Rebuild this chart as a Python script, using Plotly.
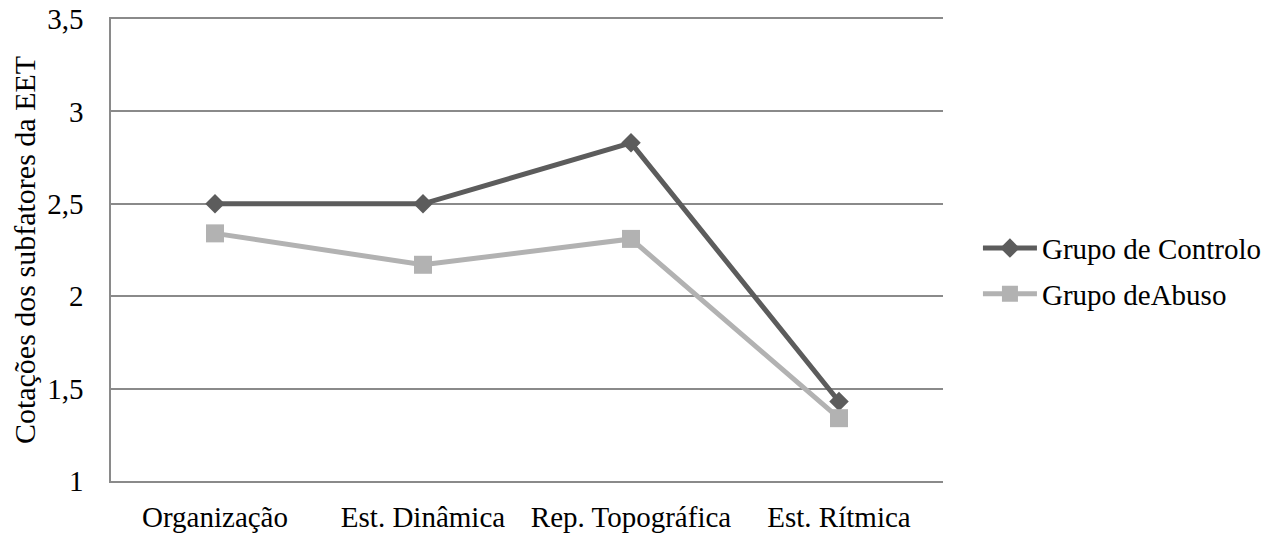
import plotly.graph_objects as go

categories = ["Organização", "Est. Dinâmica", "Rep. Topográfica", "Est. Rítmica"]
controlo = [2.5, 2.5, 2.83, 1.43]
abuso = [2.34, 2.17, 2.31, 1.34]
y_ticks = [1, 1.5, 2, 2.5, 3, 3.5]
y_tick_labels = ["1", "1,5", "2", "2,5", "3", "3,5"]

FONT = "Liberation Serif"
DARK = "#5c5c5c"
LIGHT = "#b2b2b2"
GRID = "#8a8a8a"

# the page body has an 8px default margin; size the figure to fit the window
fig = go.Figure()
fig.add_trace(go.Scatter(
    x=list(range(len(categories))), y=controlo, name="Grupo de Controlo",
    mode="lines+markers", legendgroup="a",
    line=dict(color=DARK, width=5),
    marker=dict(symbol="diamond", size=15, color=DARK),
))
fig.add_trace(go.Scatter(
    x=list(range(len(categories))), y=abuso, name="Grupo deAbuso",
    mode="lines+markers", legendgroup="b",
    line=dict(color=LIGHT, width=5),
    marker=dict(symbol="square", size=18, color=LIGHT),
))

fig.update_layout(
    width=1270, height=526,
    margin=dict(l=103, r=335, t=11, b=52.5, autoexpand=False),
    paper_bgcolor="white", plot_bgcolor="white",
    font=dict(family=FONT, size=29, color="black"),
    showlegend=True,
    legend=dict(x=1.042, xanchor="left", y=0.454, yanchor="middle",
                font=dict(family=FONT, size=29, color="black"),
                itemwidth=54,
                tracegroupgap=5, bgcolor="rgba(0,0,0,0)"),
    xaxis=dict(
        range=[-0.5, 3.5], tickmode="array", tickvals=list(range(len(categories))),
        ticktext=categories, showgrid=False, zeroline=False,
        showline=True, mirror=True, linecolor=GRID, linewidth=1.5, ticks="",
        tickfont=dict(family=FONT, size=29), automargin=False,
        ticklabelstandoff=9, ticklabeloverflow="allow",
    ),
    yaxis=dict(
        range=[1, 3.5], tickmode="array", tickvals=y_ticks, ticktext=y_tick_labels,
        showgrid=True, gridcolor=GRID, gridwidth=1.5, zeroline=False,
        showline=True, linecolor=GRID, linewidth=1.5, ticks="",
        tickfont=dict(family=FONT, size=29), automargin=False,
        ticklabelstandoff=20, ticklabeloverflow="allow",
        title=dict(text="Cotações dos subfatores da EET",
                   font=dict(family=FONT, size=30), standoff=10),
    ),
)

fig.write_html("out.html")
